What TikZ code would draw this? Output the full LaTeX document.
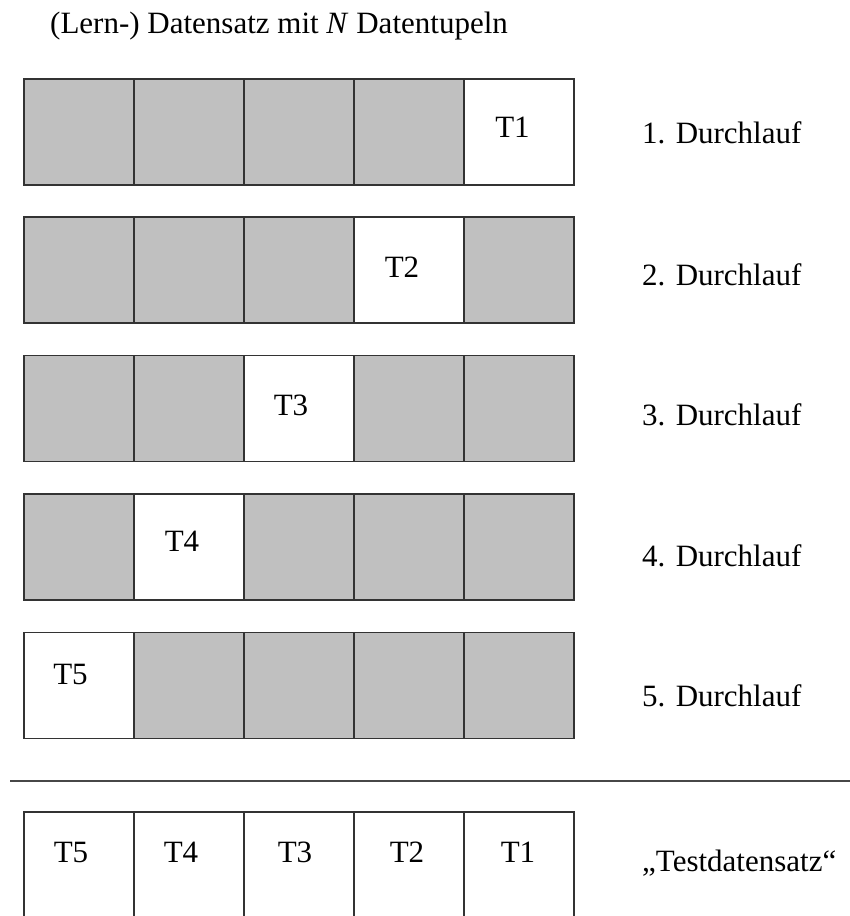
\documentclass[tikz,border=0pt]{standalone}
\usepackage{fontspec}
\setmainfont{Liberation Serif}
\definecolor{cellgray}{HTML}{C0C0C0}
\definecolor{linegray}{HTML}{333333}
\begin{document}
\begin{tikzpicture}[x=1pt,y=-1pt,
  cell/.style={draw=linegray, line width=1.8pt, minimum width=110pt, minimum height=106pt,
    inner sep=0pt, outer sep=0pt, anchor=north west},
  tcell/.style={cell, minimum height=130pt, fill=white},
  txt/.style={inner sep=0pt, anchor=base, font=\fontsize{31pt}{37pt}\selectfont},
  lbl/.style={inner sep=0pt, anchor=base west, font=\fontsize{31pt}{37pt}\selectfont},
  sep/.style={draw=linegray!90, line width=1.8pt}]
\useasboundingbox (0,0) rectangle (850,916);
\clip (0,0) rectangle (850,916);
% title
\node[lbl] (title) at (50,33) {(Lern-) Datensatz mit \textit{N} Datentupeln};
% training rows
\foreach \r/\ytop/\lb in {1/79/143, 2/217/285, 3/355.5/425, 4/494/566, 5/632.5/706} {
  \foreach \k in {1,...,5} {
    \pgfmathtruncatemacro{\w}{6-\r}
    \ifnum\k=\w \def\fc{white}\else\def\fc{cellgray}\fi
    \node[cell, fill=\fc] (c\r-\k) at ({24+110*(\k-1)},\ytop) {};
  }
  \node[lbl] (d\r) at (642,\lb) {\r. Durchlauf};
}
% T labels in training rows
\node[txt] (t1) at (512.5,137) {T1};
\node[txt] (t2) at (402,277) {T2};
\node[txt] (t3) at (291,415) {T3};
\node[txt] (t4) at (182,551) {T4};
\node[txt] (t5) at (70.5,684) {T5};
% separator
\coordinate (sl) at (10,781);
\coordinate (sr) at (850,781);
\draw[sep] (sl) -- (sr);
% test row
\foreach \k/\t/\xc in {1/T5/71, 2/T4/181, 3/T3/295, 4/T2/407, 5/T1/518} {
  \node[tcell] (b\k) at ({24+110*(\k-1)},812) {};
  \node[txt] (bt\k) at (\xc,862) {\t};
}
\node[lbl] (test) at (642,871) {„Testdatensatz“};
\end{tikzpicture}
\end{document}
